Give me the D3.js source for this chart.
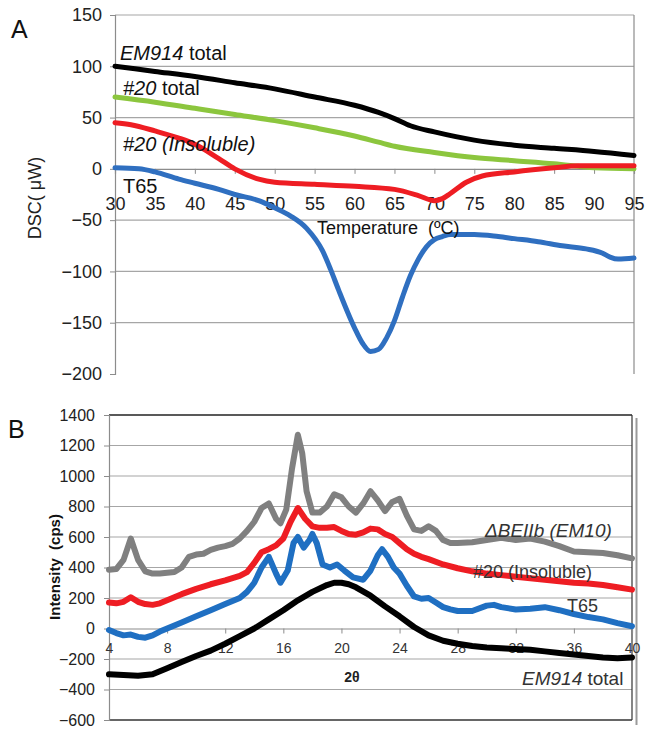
<!DOCTYPE html>
<html><head><meta charset="utf-8">
<script src="https://cdn.jsdelivr.net/npm/d3@7"></script>
<style>
html,body{margin:0;padding:0;background:#fff;}
svg{display:block;font-family:"Liberation Sans",Arial,sans-serif;}
</style></head>
<body>
<svg id="chart" width="650" height="729"></svg>
<script>
// ---------- Panel A data (DSC) ----------
const dscTicksX = [30,35,40,45,50,55,60,65,70,75,80,85,90,95];
const dscTicksY = [150,100,50,0,-50,-100,-150,-200];
const dscEM914 = [[30,100],[35,95],[40,90],[45,84],[50,78],[55,70],[60,62],[63,55],[65,49],[67,42],[70,36],[75,28],[80,23],[85,20],[90,17],[95,13]];
const dsc20total = [[30,70],[35,65],[40,59],[45,53],[50,47],[55,40],[60,32],[63,26],[65,22],[70,16],[75,11],[80,8],[85,5],[90,1],[95,0]];
const dsc20insol = [[30,45],[32,43],[35,37],[38,30],[40,24],[43,10],[45,0],[48,-10],[50,-13],[55,-15],[60,-17],[65,-20],[68,-26],[70,-31],[71,-29],[72,-24],[74,-13],[76,-7],[80,-3],[85,1],[88,3],[95,3]];
const dscT65 = [[30,1],[33,0],[35,-3],[38,-10],[40,-14],[43,-20],[45,-25],[48,-31],[50,-38],[52,-46],[54,-58],[56,-80],[57,-98],[58,-118],[60,-155],[61,-170],[62,-178],[63,-176],[64,-165],[65,-148],[66,-125],[67,-104],[68,-88],[69,-76],[70,-69],[71,-66],[72,-64],[75,-64],[78,-66],[80,-68],[83,-71],[86,-75],[89,-78],[91,-82],[92,-86],[93,-88],[95,-87]];

// ---------- Panel B data (XRD) ----------
const xrdTicksX = [4,8,12,16,20,24,28,32,36,40];
const xrdTicksY = [1400,1200,1000,800,600,400,200,0,-200,-400,-600];
const xrdBEIIb = [[4,385],[4.5,390],[5,450],[5.5,590],[6,450],[6.5,375],[7,360],[7.5,360],[8,365],[8.5,370],[9,400],[9.5,470],[10,485],[10.5,490],[11,515],[11.5,530],[12,540],[12.5,555],[13,590],[13.5,640],[14,700],[14.5,790],[15,820],[15.5,720],[15.8,690],[16.2,780],[16.6,1050],[17,1270],[17.3,1150],[17.6,900],[18,760],[18.5,760],[19,800],[19.5,880],[20,860],[20.5,800],[21,760],[21.5,820],[22,900],[22.5,840],[23,770],[23.5,830],[24,850],[24.5,740],[25,650],[25.5,640],[26,670],[26.5,640],[27,580],[27.5,560],[28,560],[29,565],[30,580],[31,595],[32,580],[33,590],[34,570],[35,540],[36,505],[37,500],[38,495],[39,480],[40,460]];
const xrd20insol = [[4,170],[4.5,165],[5,175],[5.5,205],[6,175],[6.5,160],[7,155],[7.5,165],[8,185],[9,225],[10,260],[11,290],[12,315],[13,345],[13.5,370],[14,430],[14.5,500],[15,520],[15.5,545],[16,590],[16.5,700],[17,790],[17.5,720],[18,670],[18.5,660],[19,660],[19.5,665],[20,640],[20.5,620],[21,615],[21.5,630],[22,655],[22.5,650],[23,620],[23.5,600],[24,560],[24.5,520],[25,490],[25.5,470],[26,455],[27,420],[28,395],[29,375],[30,360],[31,350],[32,340],[33,330],[34,320],[35,310],[36,300],[37,295],[38,285],[39,270],[40,255]];
const xrdT65 = [[4,-10],[4.5,-30],[5,-45],[5.5,-40],[6,-55],[6.5,-60],[7,-45],[7.5,-20],[8,0],[9,40],[10,80],[11,120],[12,160],[13,200],[13.5,240],[14,300],[14.5,400],[15,470],[15.5,360],[15.8,300],[16.3,380],[16.7,560],[17,600],[17.4,530],[17.8,580],[18,620],[18.3,560],[18.7,420],[19.2,400],[19.7,420],[20.2,380],[20.8,335],[21.5,320],[22,380],[22.5,480],[22.8,520],[23.2,470],[23.6,400],[24,360],[24.5,280],[25,210],[25.5,195],[26,200],[26.5,170],[27,140],[27.5,125],[28,115],[29,115],[30,150],[30.5,155],[31,140],[32,125],[33,130],[34,140],[35,120],[36,95],[37,75],[38,60],[39,35],[40,15]];
const xrdEM914 = [[4,-300],[5,-305],[6,-310],[7,-300],[7.5,-280],[8,-260],[9,-220],[10,-180],[11,-145],[12,-100],[13,-50],[14,0],[15,60],[16,120],[17,185],[18,240],[19,285],[19.5,300],[20,300],[20.5,290],[21,270],[22,215],[23,145],[24,80],[25,10],[26,-45],[27,-80],[28,-100],[29,-115],[30,-125],[31,-130],[32,-135],[33,-140],[34,-150],[35,-160],[36,-170],[37,-180],[38,-190],[39,-195],[40,-190]];

const svg = d3.select("#chart");
const gridCol = "#a6a6a6", axisCol = "#8c8c8c";

// ================= Panel A =================
const xA = d3.scaleLinear().domain([30,95]).range([115,634]);
const yA = d3.scaleLinear().domain([-200,150]).range([374,15]);
const gA = svg.append("g");

gA.selectAll("line.grid").data(dscTicksY.filter(v=>v!==0 && v!==-200)).enter().append("line")
  .attr("x1",xA(30)).attr("x2",xA(95)).attr("y1",d=>yA(d)).attr("y2",d=>yA(d))
  .attr("stroke",gridCol).attr("stroke-width",1.2);
gA.append("line").attr("x1",xA(95)).attr("x2",xA(95)).attr("y1",yA(150)).attr("y2",yA(-200))
  .attr("stroke",axisCol).attr("stroke-width",1.2);
const yAxA = d3.axisLeft(yA).tickValues(dscTicksY).tickSize(5).tickPadding(8).tickFormat(d3.format("d"));
const gyA = gA.append("g").attr("transform",`translate(${xA(30)},0)`).call(yAxA);
gyA.select(".domain").attr("stroke",axisCol).attr("stroke-width",1.2);
gyA.selectAll(".tick line").attr("stroke",axisCol);
gyA.selectAll(".tick text").attr("font-size",18).attr("fill","#222").style("font-family","Liberation Sans, Arial, sans-serif");
const xAxA = d3.axisBottom(xA).tickValues(dscTicksX).tickSize(5).tickPadding(0).tickFormat(d3.format("d"));
const gxA = gA.append("g").attr("transform",`translate(0,${yA(0)})`).call(xAxA);
gxA.select(".domain").attr("stroke",axisCol).attr("stroke-width",1.2);
gxA.selectAll(".tick line").attr("stroke",axisCol);
gxA.selectAll(".tick text").attr("font-size",18).attr("fill","#222").attr("dy",null).attr("y",41)
  .style("font-family","Liberation Sans, Arial, sans-serif");

const lineA = d3.line().x(d=>xA(d[0])).y(d=>yA(d[1])).curve(d3.curveMonotoneX);
const seriesA = [
  {data:dscEM914, color:"#000000"},
  {data:dsc20total, color:"#8cc63e"},
  {data:dsc20insol, color:"#ee1d23"},
  {data:dscT65, color:"#2f6fc0"}
];
gA.selectAll("path.sA").data(seriesA).enter().append("path")
  .attr("d",d=>lineA(d.data)).attr("fill","none").attr("stroke",d=>d.color)
  .attr("stroke-width",5).attr("stroke-linejoin","round").attr("stroke-linecap","round");

function richText(g, x, y, parts, size){
  const t = g.append("text").attr("x",x).attr("y",y).attr("font-size",size).attr("fill","#111");
  parts.forEach(p=>t.append("tspan").text(p[0]).attr("font-style",p[1]?"italic":"normal"));
  return t;
}
richText(gA, 120, 60, [["EM914",true],[" total",false]], 20);
richText(gA, 123, 95, [["#20",true],[" total",false]], 20);
richText(gA, 123, 151, [["#20 (Insoluble)",true]], 20);
richText(gA, 123, 193, [["T65",false]], 20);
gA.append("text").attr("x",317).attr("y",234).attr("font-size",18).attr("fill","#111")
  .attr("xml:space","preserve").text("Temperature  (ºC)");
gA.append("text").attr("transform","translate(41,198) rotate(-90)").attr("text-anchor","middle")
  .attr("font-size",18).attr("fill","#222").attr("xml:space","preserve").text("DSC( μW)");
gA.append("text").attr("x",11).attr("y",38).attr("font-size",25).attr("fill","#111").text("A");

// ================= Panel B =================
const xB = d3.scaleLinear().domain([4,40]).range([109,632]);
const yB = d3.scaleLinear().domain([-600,1400]).range([720,415]);
const gB = svg.append("g");

gB.selectAll("line.grid").data(xrdTicksY.filter(v=>v!==0 && v!==1400 && v!==-600)).enter().append("line")
  .attr("x1",xB(4)).attr("x2",xB(40)).attr("y1",d=>yB(d)).attr("y2",d=>yB(d))
  .attr("stroke",gridCol).attr("stroke-width",1.2);
gB.append("line").attr("x1",xB(4)).attr("x2",xB(40)).attr("y1",yB(1400)).attr("y2",yB(1400)).attr("stroke","#222").attr("stroke-width",1.3);
gB.append("line").attr("x1",xB(4)).attr("x2",xB(40)).attr("y1",yB(-600)).attr("y2",yB(-600)).attr("stroke","#333").attr("stroke-width",1.3);
gB.append("line").attr("x1",xB(40)).attr("x2",xB(40)).attr("y1",yB(1400)).attr("y2",yB(-600)).attr("stroke","#333").attr("stroke-width",1.2);
gB.append("line").attr("x1",xB(40)+4.5).attr("x2",xB(40)+4.5).attr("y1",yB(1400)+3).attr("y2",yB(-600)+5).attr("stroke","#9a9a9a").attr("stroke-width",2);

const yAxB = d3.axisLeft(yB).tickValues(xrdTicksY).tickSize(5).tickPadding(9).tickFormat(d3.format("d"));
const gyB = gB.append("g").attr("transform",`translate(${xB(4)},0)`).call(yAxB);
gyB.select(".domain").attr("stroke",axisCol).attr("stroke-width",1.2);
gyB.selectAll(".tick line").attr("stroke",axisCol);
gyB.selectAll(".tick text").attr("font-size",16).attr("fill","#222").style("font-family","Liberation Sans, Arial, sans-serif");

const xAxB = d3.axisBottom(xB).tickValues(xrdTicksX).tickSize(5).tickPadding(0).tickFormat(d3.format("d"));
const gxB = gB.append("g").attr("transform",`translate(0,${yB(0)})`).call(xAxB);
gxB.select(".domain").attr("stroke",axisCol).attr("stroke-width",1.2);
gxB.selectAll(".tick line").attr("stroke",axisCol);
gxB.selectAll(".tick text").attr("font-size",14).attr("fill","#333").attr("dy",null).attr("y",24)
  .style("font-family","Liberation Sans, Arial, sans-serif");

const lineB = d3.line().x(d=>xB(d[0])).y(d=>yB(d[1])).curve(d3.curveLinear);
const seriesB = [
  {data:xrdBEIIb, color:"#808080"},
  {data:xrd20insol, color:"#ee1d23"},
  {data:xrdT65, color:"#1f6fc2"},
  {data:xrdEM914, color:"#000000"}
];
gB.selectAll("path.sB").data(seriesB).enter().append("path")
  .attr("d",d=>lineB(d.data)).attr("fill","none").attr("stroke",d=>d.color)
  .attr("stroke-width",6).attr("stroke-linejoin","round").attr("stroke-linecap","round");

richText(gB, 485, 537, [["ΔBEIIb (EM10)",true]], 19).attr("fill","#333");
richText(gB, 473, 578, [["#20 (Insoluble)",false]], 18).attr("fill","#333");
richText(gB, 567, 612, [["T65",false]], 18).attr("fill","#333");
richText(gB, 522, 685, [["EM914",true],[" total",false]], 19).attr("fill","#333");
gB.append("text").attr("x",352).attr("y",682).attr("text-anchor","middle").attr("font-size",14)
  .attr("font-weight","bold").attr("fill","#222").text("2θ");
gB.append("text").attr("transform","translate(60,567) rotate(-90)").attr("text-anchor","middle")
  .attr("font-size",15).attr("font-weight","bold").attr("fill","#111").attr("xml:space","preserve").text("Intensity  (cps)");
gB.append("text").attr("x",8).attr("y",438).attr("font-size",25).attr("fill","#111").text("B");
</script>
</body></html>
